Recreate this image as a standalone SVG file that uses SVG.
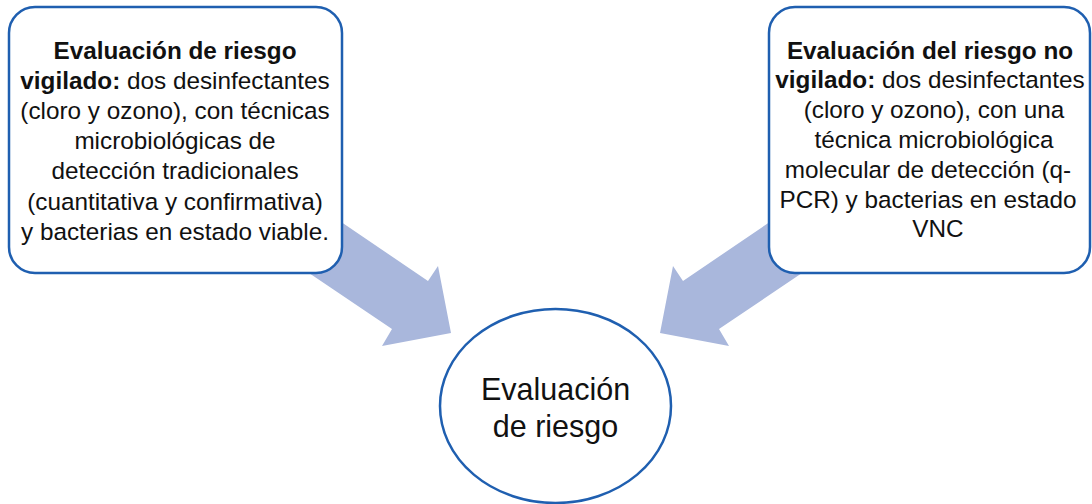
<svg xmlns="http://www.w3.org/2000/svg" width="1092" height="504" viewBox="0 0 1092 504">
<style>
.box{fill:#fff;stroke:#1f5fb0;stroke-width:2.5}
.arrow{fill:#a9b7dc;stroke:none}
.t{font-family:"Liberation Sans",Arial,sans-serif;font-size:24.3px;fill:#111;text-anchor:middle}
.b{font-weight:bold}
.big{font-family:"Liberation Sans",Arial,sans-serif;font-size:30.5px;fill:#111;text-anchor:middle}
</style>
<rect width="1092" height="504" fill="#fff"/>
<g id="connectors">
<polygon class="arrow" points="300,194 428,281 438,266 451,333 382,346 392,329 266,244"/>
<polygon class="arrow" points="811,194 683,281 673,266 660,333 729,346 719,329 845,244"/>
</g>
<g id="node-left">
<rect class="box" x="9" y="7" width="333" height="266" rx="26" ry="26"/>
<text class="t" x="175" y="58.5"><tspan class="b">Evaluación de riesgo</tspan></text>
<text class="t" x="175" y="88.7"><tspan class="b">vigilado:</tspan> dos desinfectantes</text>
<text class="t" x="175" y="118.9">(cloro y ozono), con técnicas</text>
<text class="t" x="175" y="149.1">microbiológicas de</text>
<text class="t" x="175" y="179.3">detección tradicionales</text>
<text class="t" x="175" y="209.5">(cuantitativa y confirmativa)</text>
<text class="t" x="175" y="239.7">y bacterias en estado viable.</text>
</g>
<g id="node-right">
<rect class="box" x="769" y="7" width="321" height="266" rx="26" ry="26"/>
<text class="t" x="930" y="58.5"><tspan class="b">Evaluación del riesgo no</tspan></text>
<text class="t" x="930" y="88.3"><tspan class="b">vigilado:</tspan> dos desinfectantes</text>
<text class="t" x="934" y="118.1">(cloro y ozono), con una</text>
<text class="t" x="934" y="147.9">técnica microbiológica</text>
<text class="t" x="928" y="177.7">molecular de detección (q-</text>
<text class="t" x="928" y="207.5">PCR) y bacterias en estado</text>
<text class="t" x="938" y="237.3">VNC</text>
</g>
<g id="node-center">
<ellipse class="box" cx="555.5" cy="406" rx="115.5" ry="97"/>
<text class="big" x="555.5" y="400">Evaluación</text>
<text class="big" x="555.5" y="437">de riesgo</text>
</g>
</svg>
